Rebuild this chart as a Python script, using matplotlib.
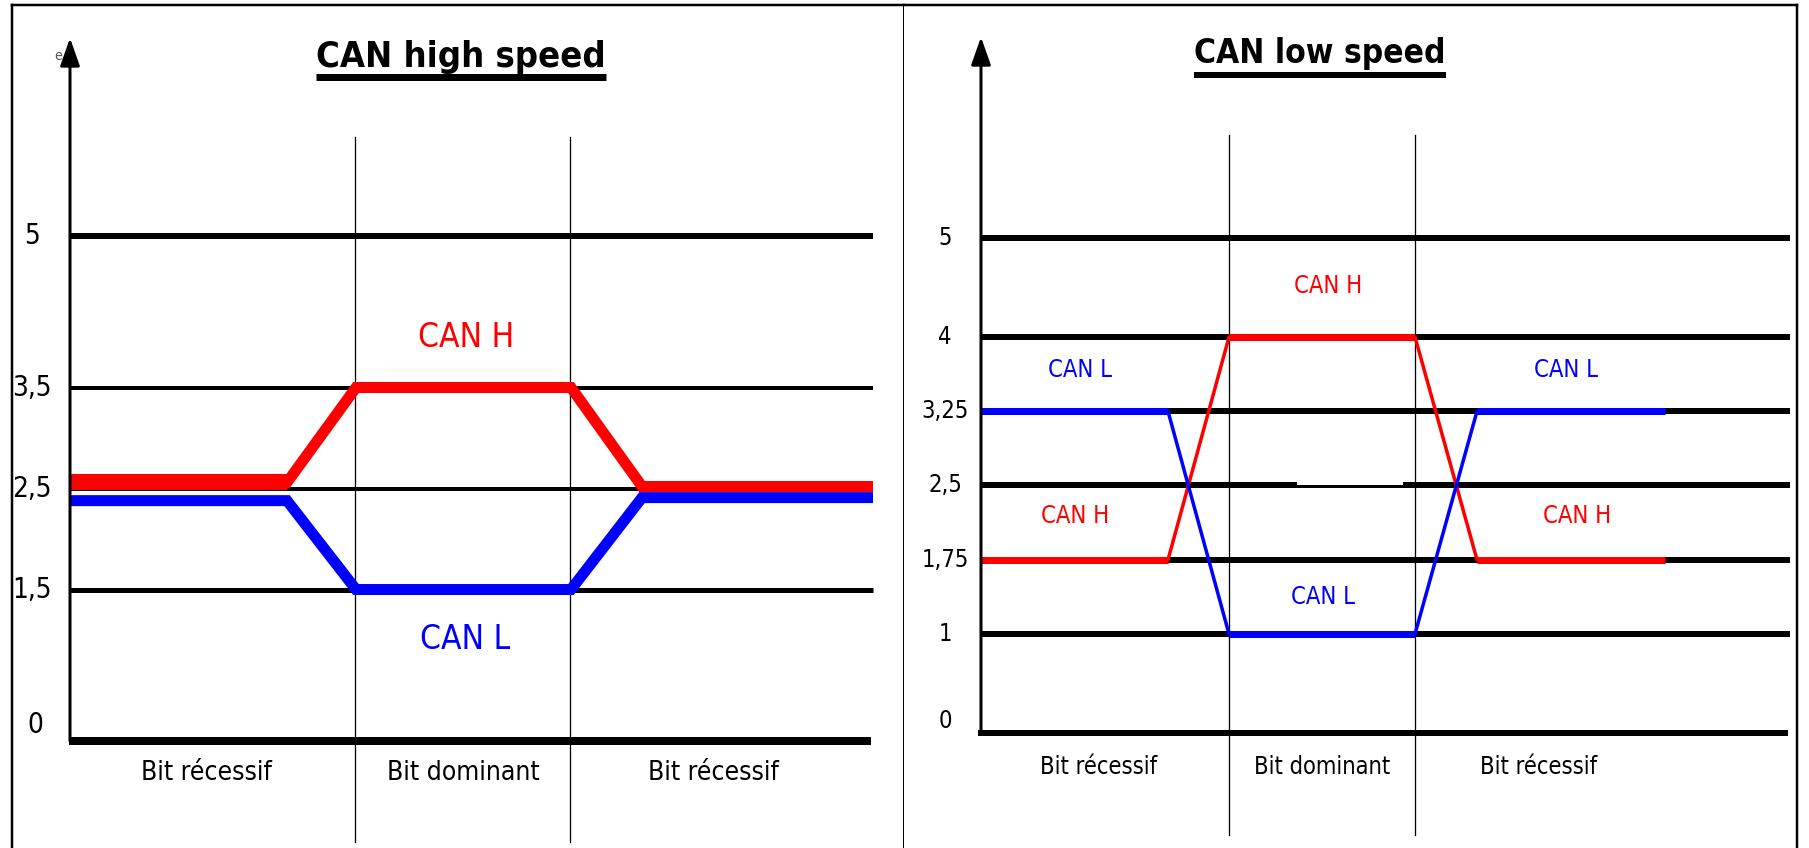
import matplotlib
matplotlib.use("Agg")
import matplotlib.pyplot as plt
from matplotlib.patches import Rectangle

plt.rcParams["font.family"] = ["DejaVu Sans"]
plt.rcParams["font.stretch"] = "condensed"

PX = 0.72  # points per pixel at dpi=100

# ---------------- CAN high speed ----------------
HS_LEVELS = [5, 3.5, 2.5, 1.5]
HS_LEVEL_LABELS = ["5", "3,5", "2,5", "1,5"]
HS_LEVEL_LW = [6, 4, 4, 5]
HS_T = [0, 2.17, 2.86, 5.01, 5.72, 8.03]
HS_CANH = [2.56, 2.56, 3.5, 3.5, 2.52, 2.52]
HS_CANL = [2.38, 2.38, 1.5, 1.5, 2.41, 2.41]
HS_BITS = [2.85, 5.00]
HS_BIT_LABELS = ["Bit récessif", "Bit dominant", "Bit récessif"]
HS_BIT_X = [1.36, 3.93, 6.43]

# ---------------- CAN low speed ----------------
LS_LEVELS = [5, 4, 3.25, 2.5, 1.75, 1]
LS_LEVEL_LABELS = ["5", "4", "3,25", "2,5", "1,75", "1"]
LS_T = [0, 1.87, 2.48, 4.34, 4.96, 6.84]
LS_CANH = [1.75, 1.75, 4, 4, 1.75, 1.75]
LS_CANL = [3.25, 3.25, 1, 1, 3.25, 3.25]
LS_BITS = [2.48, 4.34]
LS_BIT_LABELS = ["Bit récessif", "Bit dominant", "Bit récessif"]
LS_BIT_X = [1.18, 3.41, 5.58]
# (text, x, y, colour)
LS_NOTES = [("CAN H", 3.47, 4.52, "red"), ("CAN L", 0.99, 3.67, "blue"),
            ("CAN L", 5.85, 3.67, "blue"), ("CAN H", 0.94, 2.19, "red"),
            ("CAN H", 5.96, 2.19, "red"), ("CAN L", 3.42, 1.37, "blue")]

RED = "#ff0000"
BLUE = "#0000ff"

fig = plt.figure(figsize=(18.09, 8.48), dpi=100)
W, H = 1809.0, 848.0

# left panel: x border 12 .. 904, top at 5px
axL = fig.add_axes([12 / W, 0, (904 - 12) / W, 843 / H])
axL.set_xlim(-0.58, 8.34)
axL.set_ylim(-1.059, 7.287)
# right panel: 904 .. 1797
axR = fig.add_axes([904 / W, 0, (1797 - 904) / W, 843 / H])
axR.set_xlim(-0.77, 8.16)
axR.set_ylim(-1.162, 7.354)

for ax in (axL, axR):
    ax.set_xticks([])
    ax.set_yticks([])
    ax.spines["bottom"].set_visible(False)
    for s in ("left", "top", "right"):
        ax.spines[s].set_linewidth(2.5 * PX)
axL.spines["right"].set_linewidth(3 * PX)
axR.spines["left"].set_visible(False)


def axis_arrow(ax, tip):
    ax.annotate("", xy=(0, tip), xytext=(0, 0),
                arrowprops=dict(arrowstyle="-|>,head_width=0.3,head_length=0.85",
                                mutation_scale=20, lw=3 * PX, color="black",
                                shrinkA=0, shrinkB=0), zorder=5)


def underline_title(ax, txt, offset_px, lw_px):
    fig.canvas.draw()
    bb = txt.get_window_extent()
    inv = ax.transData.inverted()
    base = ax.transData.transform((0, txt.get_position()[1]))[1]
    (x0, y0) = inv.transform((bb.x0, base - offset_px))
    (x1, _) = inv.transform((bb.x1, base - offset_px))
    ax.plot([x0, x1], [y0, y0], color="black", lw=lw_px * PX, solid_capstyle="butt")


# ---- left: CAN high speed ----
ax = axL
for lvl, lw in zip(HS_LEVELS, HS_LEVEL_LW):
    ax.plot([0, 8.03], [lvl, lvl], color="black", lw=lw * PX, solid_capstyle="butt", zorder=2)
ax.plot([-0.01, 8.01], [0, 0], color="black", lw=8 * PX, solid_capstyle="butt", zorder=2)
for b in HS_BITS:
    ax.plot([b, b], [-1.0, 5.98], color="black", lw=1.3 * PX, zorder=1)
axis_arrow(ax, 6.96)
ax.plot(HS_T[:2], HS_CANH[:2], color=RED, lw=16 * PX, solid_capstyle="butt", zorder=3)
ax.plot(HS_T, HS_CANH, color=RED, lw=11 * PX, solid_joinstyle="miter",
        solid_capstyle="butt", zorder=3)
ax.plot(HS_T, HS_CANL, color=BLUE, lw=11 * PX, solid_joinstyle="miter",
        solid_capstyle="butt", zorder=3)
for lvl, lab in zip(HS_LEVELS, HS_LEVEL_LABELS):
    ax.text(-0.38, lvl, lab, ha="center", va="center", fontsize=20)
ax.text(-0.35, 0.16, "0", ha="center", va="center", fontsize=20)
ax.text(3.96, 4.0, "CAN H", color=RED, ha="center", va="center", fontsize=24)
ax.text(3.95, 1.01, "CAN L", color=BLUE, ha="center", va="center", fontsize=24)
for x, lab in zip(HS_BIT_X, HS_BIT_LABELS):
    ax.text(x, -0.32, lab, ha="center", va="center", fontsize=19)
ax.text(-0.12, 6.78, "e", ha="center", va="center", fontsize=10, color="#555555")
tL = ax.text(3.91, 6.67, "CAN high speed", ha="center", va="baseline",
             fontsize=26, fontweight="bold")

# ---- right: CAN low speed ----
ax = axR
for lvl in LS_LEVELS:
    ax.plot([0, 8.09], [lvl, lvl], color="black", lw=6 * PX, solid_capstyle="butt", zorder=2)
ax.plot([-0.03, 8.07], [0, 0], color="black", lw=6 * PX, solid_capstyle="butt", zorder=2)
ax.add_patch(Rectangle((3.16, 2.50), 1.06, 0.72, facecolor="white", edgecolor="none", zorder=2.5))
for b in LS_BITS:
    ax.plot([b, b], [-1.03, 6.04], color="black", lw=1.3 * PX, zorder=2.6)
axis_arrow(ax, 7.03)
for ys, col in ((LS_CANH, RED), (LS_CANL, BLUE)):
    ax.plot(LS_T, ys, color=col, lw=3.5 * PX, solid_capstyle="butt", zorder=3)
    for i in (0, 2, 4):
        ax.plot(LS_T[i:i + 2], ys[i:i + 2], color=col, lw=7 * PX, solid_capstyle="butt", zorder=3)
for lvl, lab in zip(LS_LEVELS, LS_LEVEL_LABELS):
    ax.text(-0.36, lvl, lab, ha="center", va="center", fontsize=17)
ax.text(-0.36, 0.12, "0", ha="center", va="center", fontsize=17)
for txt, x, y, col in LS_NOTES:
    ax.text(x, y, txt, color=col, ha="center", va="center", fontsize=17)
for x, lab in zip(LS_BIT_X, LS_BIT_LABELS):
    ax.text(x, -0.34, lab, ha="center", va="center", fontsize=17)
tR = ax.text(3.39, 6.77, "CAN low speed", ha="center", va="baseline",
             fontsize=24, fontweight="bold")

underline_title(axL, tL, 10, 7)
underline_title(axR, tR, 12, 6)

fig.savefig("out.png", dpi=100)
